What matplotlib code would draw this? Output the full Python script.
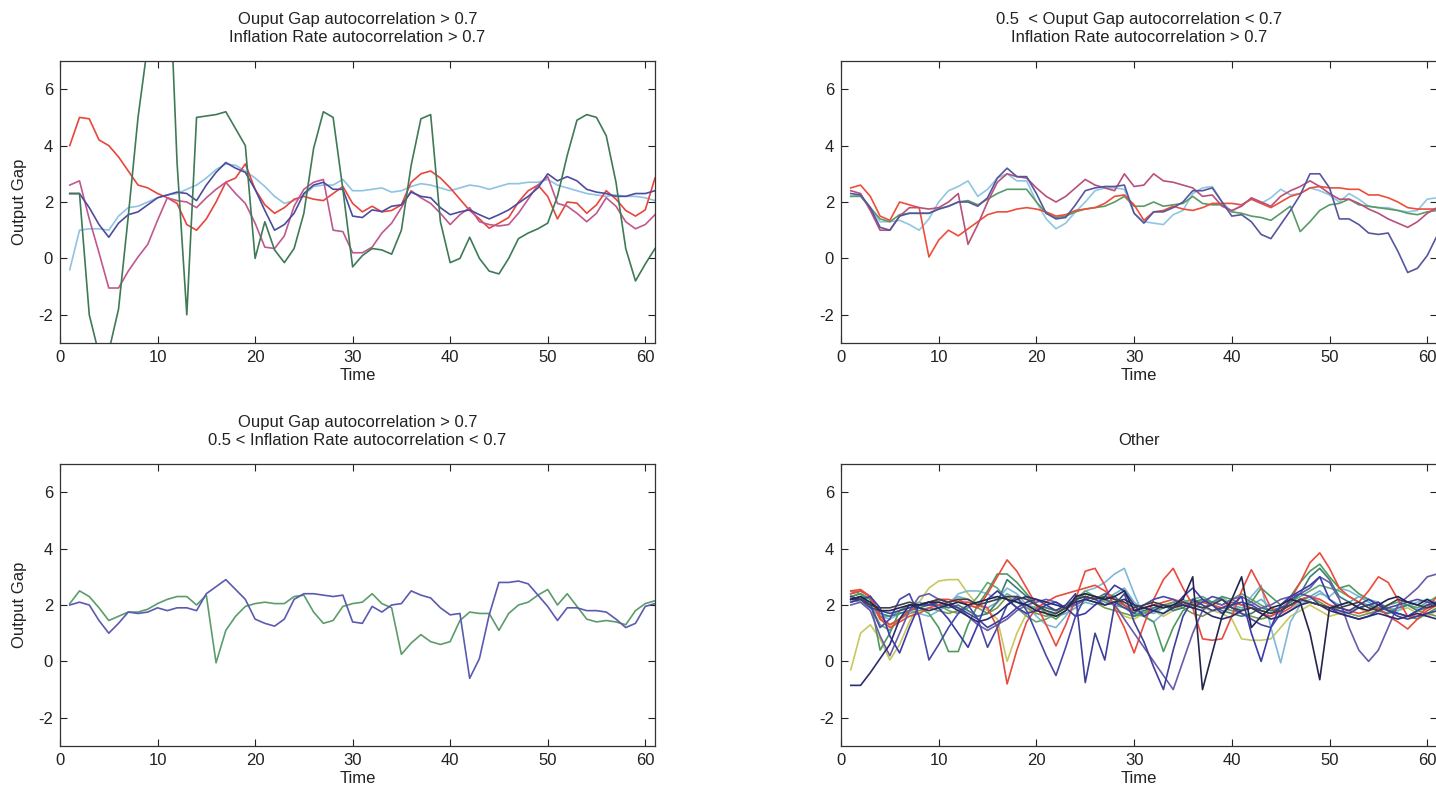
import matplotlib
matplotlib.use("Agg")
import matplotlib.pyplot as plt
import numpy as np

plt.rcParams['font.family'] = ['Liberation Sans Narrow', 'Liberation Sans', 'DejaVu Sans']
plt.rcParams['axes.unicode_minus'] = False

time = list(range(1, 62))

titles = [
    "Ouput Gap autocorrelation > 0.7\nInflation Rate autocorrelation > 0.7",
    "0.5  < Ouput Gap autocorrelation < 0.7\nInflation Rate autocorrelation > 0.7",
    "Ouput Gap autocorrelation > 0.7\n0.5 < Inflation Rate autocorrelation < 0.7",
    "Other",
]
x_label = "Time"
y_label = "Output Gap"
x_ticks = [0, 10, 20, 30, 40, 50, 60]
y_ticks = [-2, 0, 2, 4, 6]

# ---------------- panel 1 (top left) ----------------
tl_red = [4.0, 5.0, 4.95, 4.2, 4.0, 3.6, 3.1, 2.6, 2.5, 2.3,
          2.15, 1.95, 1.2, 1.0, 1.4, 2.0, 2.7, 2.85, 3.35, 2.45,
          1.9, 1.6, 1.8, 2.1, 2.2, 2.1, 2.05, 2.3, 2.55, 1.95,
          1.65, 1.85, 1.65, 1.7, 1.9, 2.7, 3.0, 3.1, 2.85, 2.5,
          2.1, 1.7, 1.4, 1.07, 1.25, 1.45, 2.0, 2.4, 2.6, 2.2,
          1.4, 2.0, 1.96, 1.6, 1.9, 2.4, 2.1, 1.7, 1.5, 1.72, 2.85]
tl_lightblue = [-0.4, 1.0, 1.05, 1.05, 1.0, 1.5, 1.8, 1.85, 2.0, 2.15,
                2.25, 2.3, 2.45, 2.6, 2.85, 3.15, 3.35, 3.3, 3.1, 2.85,
                2.55, 2.2, 1.95, 2.05, 2.25, 2.55, 2.6, 2.6, 2.8, 2.4,
                2.4, 2.45, 2.5, 2.35, 2.4, 2.55, 2.65, 2.6, 2.5, 2.4,
                2.5, 2.6, 2.55, 2.45, 2.55, 2.65, 2.65, 2.7, 2.7, 2.8,
                2.6, 2.5, 2.4, 2.3, 2.25, 2.2, 2.25, 2.2, 2.2, 2.15, 2.05]
tl_navy = [2.3, 2.3, 1.8, 1.2, 0.75, 1.25, 1.55, 1.65, 1.9, 2.15,
           2.25, 2.35, 2.3, 2.05, 2.6, 3.05, 3.4, 3.2, 3.05, 2.45,
           1.7, 1.0, 1.2, 1.6, 2.3, 2.6, 2.7, 2.45, 2.45, 1.5,
           1.45, 1.72, 1.66, 1.85, 1.9, 2.35, 2.2, 2.15, 1.8, 1.55,
           1.65, 1.72, 1.55, 1.4, 1.55, 1.72, 1.96, 2.2, 2.5, 3.0,
           2.75, 2.9, 2.75, 2.45, 2.35, 2.3, 2.2, 2.2, 2.3, 2.3, 2.4]
tl_magenta = [2.6, 2.75, 1.4, 0.2, -1.05, -1.05, -0.45, 0.05, 0.5, 1.35,
              2.15, 2.05, 2.0, 1.8, 2.15, 2.45, 2.7, 2.3, 1.95, 1.25,
              0.4, 0.35, 0.8, 1.85, 2.45, 2.7, 2.8, 1.0, 0.95, 0.2,
              0.2, 0.4, 0.9, 1.25, 1.8, 2.4, 2.15, 1.95, 1.6, 1.2,
              1.55, 1.8, 1.3, 1.2, 1.15, 1.2, 1.6, 2.1, 2.6, 2.9,
              1.95, 1.85, 1.6, 1.3, 1.6, 2.15, 1.85, 1.3, 1.05, 1.2, 1.55]
tl_green = [2.3, 2.3, -2.0, -3.4, -3.3, -1.8, 1.5, 5.0, 7.6, 10.0,
            12.0, 3.4, -2.0, 5.0, 5.05, 5.1, 5.2, 4.6, 4.0, 0.0,
            1.3, 0.3, -0.15, 0.35, 1.6, 3.9, 5.2, 5.0, 2.45, -0.3,
            0.1, 0.35, 0.3, 0.15, 1.0, 3.3, 4.95, 5.1, 1.3, -0.15,
            0.0, 0.75, 0.0, -0.45, -0.55, 0.0, 0.7, 0.9, 1.05, 1.25,
            2.2, 3.65, 4.9, 5.1, 5.0, 4.35, 2.7, 0.35, -0.8, -0.2, 0.35]

# ---------------- panel 2 (top right) ----------------
tr_red = [2.5, 2.6, 2.2, 1.5, 1.35, 2.0, 1.9, 1.8, 0.05, 0.65,
          1.0, 0.8, 1.05, 1.3, 1.55, 1.65, 1.65, 1.75, 1.8, 1.75,
          1.65, 1.5, 1.55, 1.7, 1.75, 1.8, 1.95, 2.2, 2.25, 1.9,
          1.35, 1.65, 1.7, 1.85, 1.75, 1.7, 1.8, 1.95, 1.95, 1.95,
          1.9, 2.1, 1.95, 1.8, 2.0, 2.2, 2.3, 2.5, 2.55, 2.5,
          2.5, 2.45, 2.45, 2.25, 2.25, 2.15, 2.0, 1.8, 1.75, 1.75, 1.75]
tr_pink = [2.4, 2.3, 1.7, 1.0, 1.0, 1.5, 1.8, 1.8, 1.75, 1.8,
           2.0, 2.3, 0.5, 1.2, 2.0, 2.7, 3.0, 2.9, 2.85, 2.5,
           2.2, 2.0, 2.2, 2.5, 2.8, 2.6, 2.5, 2.4, 3.0, 2.55,
           2.6, 3.0, 2.75, 2.7, 2.6, 2.5, 2.2, 2.25, 1.85, 1.7,
           1.85, 2.15, 2.0, 1.85, 2.2, 2.4, 2.55, 2.75, 2.55, 2.3,
           2.1, 2.1, 1.95, 1.75, 1.6, 1.4, 1.25, 1.1, 1.3, 1.6, 1.8]
tr_lightblue = [2.2, 2.25, 1.8, 1.3, 1.3, 1.35, 1.2, 1.0, 1.4, 2.0,
                2.4, 2.55, 2.75, 2.2, 2.45, 2.85, 3.0, 2.75, 2.75, 2.0,
                1.4, 1.05, 1.25, 1.65, 2.0, 2.4, 2.5, 2.5, 2.45, 1.6,
                1.3, 1.25, 1.2, 1.55, 1.7, 2.3, 2.5, 2.55, 2.0, 1.65,
                1.9, 2.1, 1.95, 2.15, 2.45, 2.25, 2.3, 2.5, 2.4, 2.25,
                2.0, 2.3, 2.1, 1.85, 1.8, 1.8, 1.7, 1.65, 1.7, 2.1, 2.15]
tr_navy = [2.3, 2.25, 1.8, 1.1, 1.0, 1.5, 1.6, 1.6, 1.6, 1.75,
           1.85, 2.0, 2.0, 1.85, 2.15, 2.85, 3.2, 2.9, 2.9, 2.3,
           1.6, 1.4, 1.45, 1.9, 2.4, 2.5, 2.55, 2.55, 2.6, 1.6,
           1.25, 1.65, 1.65, 1.8, 2.0, 2.4, 2.4, 2.5, 2.0, 1.5,
           1.55, 1.3, 0.85, 0.7, 1.2, 1.7, 2.25, 3.0, 3.0, 2.5,
           1.4, 1.4, 1.2, 0.9, 0.85, 0.9, 0.25, -0.5, -0.35, 0.1, 0.8]
tr_green = [2.2, 2.2, 1.8, 1.4, 1.3, 1.55, 1.6, 1.6, 1.6, 1.75,
            1.85, 2.0, 2.05, 1.9, 2.1, 2.3, 2.45, 2.45, 2.45, 2.0,
            1.6, 1.45, 1.5, 1.65, 1.75, 1.8, 1.85, 2.0, 2.2, 1.85,
            1.85, 2.0, 1.85, 1.9, 1.95, 2.2, 1.95, 1.9, 1.9, 1.65,
            1.6, 1.5, 1.45, 1.35, 1.6, 1.85, 0.95, 1.3, 1.7, 1.9,
            1.95, 2.1, 1.9, 1.85, 1.8, 1.75, 1.7, 1.6, 1.55, 1.65, 1.7]

# ---------------- panel 3 (bottom left) ----------------
bl_blue = [2.0, 2.1, 2.0, 1.45, 1.0, 1.35, 1.75, 1.7, 1.75, 1.9,
           1.8, 1.9, 1.9, 1.8, 2.4, 2.65, 2.9, 2.55, 2.2, 1.5,
           1.35, 1.25, 1.5, 2.2, 2.4, 2.4, 2.35, 2.3, 2.35, 1.4,
           1.35, 1.95, 1.75, 2.0, 2.05, 2.5, 2.35, 2.25, 1.9, 1.65,
           1.7, -0.6, 0.1, 1.65, 2.8, 2.8, 2.85, 2.75, 2.35, 1.95,
           1.45, 1.9, 1.9, 1.8, 1.8, 1.75, 1.5, 1.2, 1.35, 1.95, 2.05]
bl_green = [2.05, 2.5, 2.3, 1.9, 1.45, 1.6, 1.75, 1.75, 1.85, 2.05,
            2.2, 2.3, 2.3, 2.0, 2.35, -0.05, 1.1, 1.6, 1.95, 2.05,
            2.1, 2.05, 2.05, 2.3, 2.35, 1.75, 1.35, 1.45, 1.95, 2.05,
            2.1, 2.4, 2.05, 1.9, 0.25, 0.65, 0.95, 0.7, 0.6, 0.7,
            1.45, 1.75, 1.7, 1.7, 1.1, 1.7, 2.0, 2.1, 2.35, 2.55,
            2.0, 2.4, 1.95, 1.5, 1.4, 1.45, 1.4, 1.3, 1.8, 2.05, 2.15]

# ---------------- panel 4 (bottom right, "Other") ----------------
br_red1 = [2.5, 2.55, 2.3, 1.5, 1.2, 1.4, 1.6, 1.7, 1.9, 2.0,
           2.1, 2.2, 2.0, 1.9, 2.4, 3.0, 3.6, 3.2, 2.6, 2.0,
           1.3, 0.55, 1.3, 2.2, 3.2, 3.3, 2.7, 1.9, 1.2, 0.3,
           1.3, 2.2, 2.9, 3.3, 2.6, 2.0, 2.1, 2.0, 1.9, 2.1,
           2.0, 1.9, 1.7, 1.6, 1.8, 2.2, 2.8, 3.5, 3.85, 3.3,
           2.6, 2.3, 2.1, 2.5, 3.0, 2.8, 2.2, 1.6, 1.6, 1.9, 2.3]
br_red2 = [2.4, 2.5, 2.3, 1.6, 1.3, 1.5, 1.8, 2.0, 2.1, 2.2,
           2.2, 2.1, 2.1, 2.0, 1.9, 1.2, -0.8, 0.4, 1.4, 1.9,
           2.1, 2.3, 2.4, 2.5, 2.6, 2.7, 2.5, 2.2, 2.0, 1.8,
           1.9, 2.0, 2.1, 2.2, 2.1, 1.9, 0.8, 0.75, 0.8, 1.6,
           2.5, 3.25, 2.6, 1.9, 1.7, 1.9, 2.2, 2.3, 2.2, 2.0,
           1.9, 1.8, 1.7, 1.8, 1.9, 1.6, 1.4, 1.15, 1.5, 1.8, 2.0]
br_yellow = [-0.3, 1.0, 1.3, 0.8, 0.05, 0.6, 1.4, 2.1, 2.6, 2.85,
             2.9, 2.9, 2.4, 2.0, 1.8, 1.5, 0.0, 1.0, 1.7, 2.0,
             1.9, 1.8, 1.9, 2.1, 2.2, 2.3, 2.2, 2.0, 1.6, 1.5,
             1.7, 1.8, 1.6, 1.8, 2.0, 2.1, 1.9, 1.8, 1.7, 1.5,
             0.8, 0.75, 0.75, 0.8, 1.2, 1.6, 1.8, 2.0, 1.8, 1.6,
             1.7, 1.8, 1.9, 1.7, 1.8, 1.7, 1.8, 1.9, 1.7, 1.6, 1.8]
br_navy1 = [2.2, 2.3, 2.0, 1.2, 1.5, 2.2, 2.4, 1.6, 0.05, 0.6,
            1.2, 1.7, 2.0, 1.5, 0.5, 1.2, 2.0, 2.3, 1.8, 1.0,
            0.2, -0.5, 0.5, 1.6, 2.3, 2.2, 2.0, 2.1, 1.9, 1.7,
            2.0, 2.2, 2.3, 2.2, 2.0, 1.9, 2.1, 2.3, 2.2, 1.9,
            1.7, 1.5, 1.3, 1.2, 1.7, 2.2, 2.4, 2.3, 2.0, 1.9,
            1.7, 1.6, 1.5, 1.6, 1.8, 1.9, 2.0, 2.1, 2.2, 2.1, 2.0]
br_navy2 = [2.3, 2.2, 1.9, 1.8, 1.7, 1.8, 1.9, 2.0, 2.0, 2.1,
            2.0, 1.9, 1.7, 1.5, 1.2, 1.4, 1.6, 1.9, 2.1, 2.2,
            2.0, 1.8, 2.0, 2.4, -0.75, 1.0, 0.05, 2.0, 2.4, 1.4,
            0.7, -0.2, -1.0, 0.4, 1.6, 2.2, 2.0, 1.8, 1.9, 2.0,
            2.1, 2.0, 1.8, 1.7, 1.9, 2.0, 2.2, 2.1, 2.0, 1.9,
            1.8, 1.7, 1.9, 2.0, 2.1, 1.8, 1.6, 1.5, 1.6, 1.7, 1.8]
br_dark = [2.2, 2.3, 2.1, 1.8, 1.8, 1.9, 2.0, 2.0, 2.1, 2.1,
           2.0, 2.1, 2.0, 2.1, 2.2, 2.3, 2.2, 2.1, 2.0, 1.8,
           1.7, 1.6, 1.8, 2.3, 2.4, 2.3, 2.2, 2.3, 2.5, 1.8,
           1.9, 2.0, 1.9, 2.0, 2.2, 3.0, -1.0, 0.3, 1.6, 2.2,
           3.0, 1.2, 1.6, 1.9, 2.0, 2.2, 2.1, 1.0, -0.65, 1.9,
           2.0, 2.1, 1.9, 1.8, 2.0, 2.2, 2.3, 2.1, 2.0, 2.2, 2.0]
br_purple = [2.0, 2.1, 1.8, 0.9, 0.2, 1.0, 1.8, 2.3, 2.4, 2.2,
             2.1, 1.9, 1.6, 1.3, 1.1, 1.3, 1.5, 1.8, 2.0, 2.1,
             2.2, 2.1, 1.9, 2.0, 2.2, 2.3, 2.2, 2.0, 1.5, 1.0,
             0.5, 0.0, -0.5, -1.0, 0.0, 1.0, 1.8, 2.1, 2.0, 2.2,
             2.3, 2.1, 1.9, 2.0, 2.2, 2.3, 2.4, 2.6, 3.0, 2.8,
             2.2, 1.2, 0.4, 0.0, 0.4, 1.2, 2.0, 2.3, 2.6, 3.0, 3.1]
br_lightblue = [2.1, 2.2, 2.0, 1.6, 1.5, 1.7, 1.8, 1.7, 1.6, 1.8,
                2.0, 2.4, 2.5, 2.5, 2.4, 2.2, 2.6, 2.4, 2.0, 1.6,
                1.3, 1.2, 1.6, 2.1, 2.5, 2.6, 2.8, 3.1, 3.3, 2.4,
                1.6, 1.4, 1.7, 2.0, 2.1, 2.2, 2.1, 2.0, 2.3, 2.0,
                1.8, 2.3, 2.7, 1.2, -0.05, 1.4, 2.0, 2.2, 2.4, 2.3,
                2.6, 2.5, 2.3, 2.2, 2.1, 1.9, 1.8, 2.0, 2.1, 2.2, 2.1]
br_green = [2.3, 2.4, 2.2, 0.4, 1.0, 1.8, 2.0, 1.9, 1.7, 1.2,
            0.35, 0.35, 1.3, 2.0, 2.5, 3.1, 3.1, 2.8, 2.4, 2.0,
            1.7, 1.5, 1.8, 2.2, 2.4, 2.3, 2.2, 2.1, 2.0, 1.7,
            1.6, 1.4, 0.35, 1.2, 1.8, 2.0, 2.2, 2.1, 2.3, 2.2,
            2.0, 2.1, 2.6, 2.3, 2.0, 2.3, 2.8, 3.2, 3.45, 3.0,
            2.6, 2.7, 2.4, 2.2, 2.0, 1.8, 1.7, 1.6, 1.5, 1.7, 1.9]
br_teal = [2.4, 2.5, 2.3, 1.7, 1.6, 1.7, 1.8, 1.9, 2.0, 2.0,
           1.9, 2.0, 1.8, 1.6, 1.7, 2.1, 2.9, 2.6, 2.3, 2.0,
           1.9, 1.8, 2.0, 2.2, 2.3, 2.2, 2.4, 2.3, 2.0, 1.6,
           1.8, 1.9, 2.0, 1.8, 1.9, 2.1, 2.2, 2.0, 1.8, 1.7,
           1.6, 1.7, 1.9, 1.8, 1.9, 2.1, 2.4, 3.0, 3.3, 2.9,
           2.3, 2.1, 1.9, 2.0, 1.8, 1.7, 1.9, 2.0, 1.8, 1.9, 2.0]
br_darknavy = [-0.85, -0.85, -0.4, 0.1, 0.6, 1.5, 2.0, 1.9, 1.8, 1.9,
               2.0, 1.8, 1.6, 1.4, 1.5, 1.7, 2.0, 2.2, 2.3, 2.2,
               2.1, 2.0, 1.9, 2.1, 2.2, 2.1, 2.0, 2.1, 2.2, 2.0,
               1.9, 1.8, 1.7, 1.9, 2.0, 1.9, 1.8, 1.6, 1.5, 1.6,
               1.8, 1.9, 1.7, 1.5, 1.6, 1.8, 2.0, 2.1, 2.0, 1.8,
               1.7, 1.6, 1.5, 1.6, 1.7, 1.6, 1.5, 1.6, 1.7, 1.6, 1.5]
br_blue3 = [2.1, 2.2, 2.3, 1.9, 0.9, 0.3, 1.2, 2.0, 2.1, 1.9,
            1.5, 1.0, 0.5, 1.3, 2.2, 2.5, 2.2, 1.9, 1.7, 1.8,
            2.0, 2.1, 1.9, 1.6, 1.7, 2.0, 2.3, 2.7, 2.5, 2.0,
            1.6, 1.8, 2.0, 1.9, 2.3, 2.6, 2.2, 2.0, 1.7, 2.0,
            2.3, 1.0, 0.0, 1.2, 2.0, 2.3, 2.5, 2.7, 3.0, 2.2,
            1.9, 1.8, 2.0, 2.2, 2.0, 1.8, 1.7, 1.6, 1.8, 2.0, 2.1]
br_gray = [2.2, 2.2, 2.0, 1.9, 1.9, 2.0, 2.1, 2.0, 2.1, 2.2,
           2.1, 2.2, 2.2, 2.0, 2.1, 2.2, 2.3, 2.3, 2.2, 2.0,
           1.8, 1.7, 1.9, 2.2, 2.3, 2.2, 2.3, 2.2, 2.1, 1.9,
           2.0, 2.1, 2.0, 1.9, 2.1, 2.0, 1.9, 2.0, 2.2, 1.9,
           1.8, 1.9, 1.8, 1.7, 1.8, 2.0, 2.2, 2.1, 2.0, 1.9,
           1.9, 2.0, 2.1, 1.9, 1.8, 2.0, 2.2, 2.1, 2.0, 1.9, 2.0]
br_green2 = [2.5, 2.4, 2.0, 1.3, 1.1, 1.5, 1.8, 2.0, 2.1, 2.0,
             1.8, 1.7, 1.9, 2.3, 2.8, 2.6, 2.2, 1.9, 1.6, 1.4,
             1.5, 1.7, 1.9, 2.2, 2.5, 2.3, 2.1, 2.0, 1.9, 1.8,
             1.7, 1.8, 1.9, 2.0, 2.1, 2.2, 2.3, 2.1, 2.0, 2.2,
             2.4, 2.2, 2.0, 1.8, 1.9, 2.1, 2.3, 2.5, 2.7, 2.6,
             2.5, 2.3, 2.1, 2.0, 1.9, 2.0, 2.1, 2.0, 1.9, 2.1, 2.3]
br_olive = [2.3, 2.4, 2.2, 1.5, 1.3, 1.5, 1.7, 1.8, 1.9, 1.8,
            1.7, 1.8, 2.0, 1.9, 1.7, 1.9, 2.3, 2.1, 1.9, 1.7,
            1.6, 1.7, 1.9, 2.0, 2.2, 2.1, 1.9, 1.8, 1.7, 1.6,
            1.7, 1.9, 2.0, 2.1, 1.9, 1.7, 1.6, 1.8, 1.9, 1.8,
            1.7, 1.6, 1.5, 1.6, 1.8, 2.0, 2.2, 2.3, 2.1, 1.9,
            1.8, 1.7, 1.6, 1.7, 1.8, 1.9, 1.7, 1.6, 1.8, 1.7, 1.6]
br_cyan = [2.2, 2.1, 1.9, 1.6, 1.6, 1.8, 2.0, 2.1, 2.0, 1.9,
           2.1, 2.3, 2.2, 2.0, 1.9, 2.1, 2.4, 2.2, 2.0, 1.9,
           1.8, 1.6, 1.7, 1.9, 2.1, 2.0, 2.2, 2.4, 2.6, 2.1,
           1.8, 1.7, 1.9, 2.1, 2.2, 2.0, 1.9, 2.1, 2.2, 2.0,
           1.9, 2.0, 2.2, 1.9, 1.6, 1.8, 2.1, 2.3, 2.5, 2.2,
           2.0, 2.1, 2.3, 2.1, 1.9, 1.8, 1.9, 2.0, 1.9, 2.0, 2.1]

panels = [
    [(tl_lightblue, '#8fc3e3'), (tl_red, '#e8453c'), (tl_magenta, '#c0588e'),
     (tl_navy, '#4c4c9e'), (tl_green, '#3f7a56')],
    [(tr_lightblue, '#8fc6e2'), (tr_green, '#5a9a68'), (tr_red, '#ee4d3a'),
     (tr_pink, '#b8507c'), (tr_navy, '#56569e')],
    [(bl_green, '#5c9c6c'), (bl_blue, '#5a5ab2')],
    [(br_yellow, '#c8c860'), (br_lightblue, '#80b8d8'), (br_cyan, '#6ab0c0'),
     (br_green2, '#62aa72'), (br_olive, '#7a9a50'),
     (br_teal, '#3c7c78'), (br_green, '#4e9a5e'), (br_red2, '#e84a40'),
     (br_red1, '#ec4a3e'), (br_purple, '#6a5aaa'), (br_blue3, '#3a3aa8'),
     (br_navy1, '#4848a8'), (br_navy2, '#40409a'), (br_darknavy, '#2c2c70'),
     (br_gray, '#404048'), (br_dark, '#24244c')],
]

W, H = 1436.0, 787.0
boxes = [
    (60, 61, 595, 282),
    (841, 61, 596, 282),
    (60, 464, 595, 282),
    (841, 464, 596, 282),
]

fig = plt.figure(figsize=(14.36, 7.87), dpi=100)
fig.patch.set_facecolor('white')

for i, (box, series) in enumerate(zip(boxes, panels)):
    x0, y0, w, h = box
    ax = fig.add_axes([x0 / W, 1 - (y0 + h) / H, w / W, h / H])
    for vals, col in series:
        ax.plot(time, vals, color=col, lw=1.2)
    ax.set_xlim(0, 61)
    ax.set_ylim(-3, 7)
    ax.set_xticks(x_ticks)
    ax.set_yticks(y_ticks)
    ax.tick_params(direction='in', top=True, right=True, length=5, width=0.8,
                   labelsize=12, pad=5, colors='#222222')
    for sp in ax.spines.values():
        sp.set_color('#333333')
        sp.set_linewidth(0.9)
    ax.set_title(titles[i], fontsize=12, pad=14, linespacing=1.25, color='#222222')
    ax.set_xlabel(x_label, fontsize=12, labelpad=2, color='#222222')
    if i in (0, 2):
        ax.set_ylabel(y_label, fontsize=12, labelpad=8, color='#222222')

fig.savefig('out.png', dpi=100)
